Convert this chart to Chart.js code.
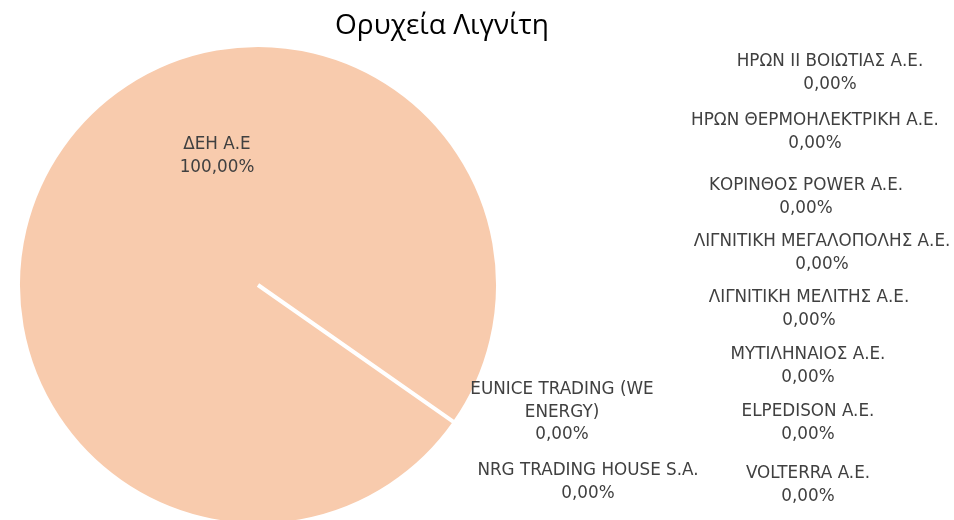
<!DOCTYPE html>
<html>
<head>
<meta charset="utf-8">
<title>Ορυχεία Λιγνίτη</title>
<script src="https://cdn.jsdelivr.net/npm/chart.js@4.4.0/dist/chart.umd.min.js"></script>
<style>
  body { margin: 0; background: #fff; }
  #wrap { width: 954px; height: 520px; position: relative; }
</style>
</head>
<body>
<div id="wrap"><canvas id="pie"></canvas></div>
<script>
const chartTitle = 'Ορυχεία Λιγνίτη';
const companies = [
  'ΔΕΗ Α.Ε',
  'EUNICE TRADING (WE ENERGY)',
  'NRG TRADING HOUSE S.A.',
  'VOLTERRA A.E.',
  'ELPEDISON A.E.',
  'ΜΥΤΙΛΗΝΑΙΟΣ Α.Ε.',
  'ΛΙΓΝΙΤΙΚΗ ΜΕΛΙΤΗΣ Α.Ε.',
  'ΛΙΓΝΙΤΙΚΗ ΜΕΓΑΛΟΠΟΛΗΣ Α.Ε.',
  'ΚΟΡΙΝΘΟΣ POWER A.E.',
  'ΗΡΩΝ ΘΕΡΜΟΗΛΕΚΤΡΙΚΗ Α.Ε.',
  'ΗΡΩΝ ΙΙ ΒΟΙΩΤΙΑΣ Α.Ε.'
];
const shares = [100, 0, 0, 0, 0, 0, 0, 0, 0, 0, 0];

// where each data label sits: centre x, first line y, wrap width
const labelSpots = [
  [217, 145, 400],
  [562, 390, 200],
  [588, 471, 400],
  [808, 474, 400],
  [808, 412, 400],
  [808, 355, 400],
  [809, 298, 400],
  [822, 242, 400],
  [806, 186, 400],
  [815, 121, 400],
  [830, 62, 400]
];

function wrapText(ctx, text, maxW) {
  const words = text.split(' ');
  const lines = [];
  let cur = '';
  words.forEach(w => {
    const test = cur ? cur + ' ' + w : w;
    if (cur && ctx.measureText(test).width > maxW) {
      lines.push(cur);
      cur = w;
    } else {
      cur = test;
    }
  });
  if (cur) lines.push(cur);
  return lines;
}

const pieLabels = {
  id: 'pieLabels',
  afterDraw(chart) {
    const ctx = chart.ctx;
    ctx.save();
    ctx.textAlign = 'center';
    ctx.textBaseline = 'middle';
    ctx.fillStyle = '#000';
    ctx.font = '28px "Open Sans"';
    ctx.fillText(chartTitle, 442, 26);

    const data = chart.data.datasets[0].data;
    const total = data.reduce((a, b) => a + b, 0);
    ctx.font = '16.8px "DejaVu Sans"';
    ctx.fillStyle = '#404040';
    chart.data.labels.forEach((name, i) => {
      const [x, y, w] = labelSpots[i];
      const pct = (data[i] / total * 100).toFixed(2).replace('.', ',') + '%';
      const lines = wrapText(ctx, name, w).concat([pct]);
      lines.forEach((ln, k) => ctx.fillText(ln, x, y + k * 22.5));
    });
    ctx.restore();
  }
};

new Chart(document.getElementById('pie'), {
  type: 'pie',
  data: {
    labels: companies,
    datasets: [{
      data: shares,
      backgroundColor: '#F8CBAD',
      borderColor: '#ffffff',
      borderWidth: 4,
      hoverOffset: 0,
      radius: 240
    }]
  },
  options: {
    responsive: true,
    maintainAspectRatio: false,
    animation: false,
    rotation: 125,
    layout: { padding: { top: 50, left: 18, right: 456, bottom: 0 } },
    plugins: {
      legend: { display: false },
      title: { display: false },
      tooltip: { enabled: false }
    }
  },
  plugins: [pieLabels]
});
</script>
</body>
</html>
